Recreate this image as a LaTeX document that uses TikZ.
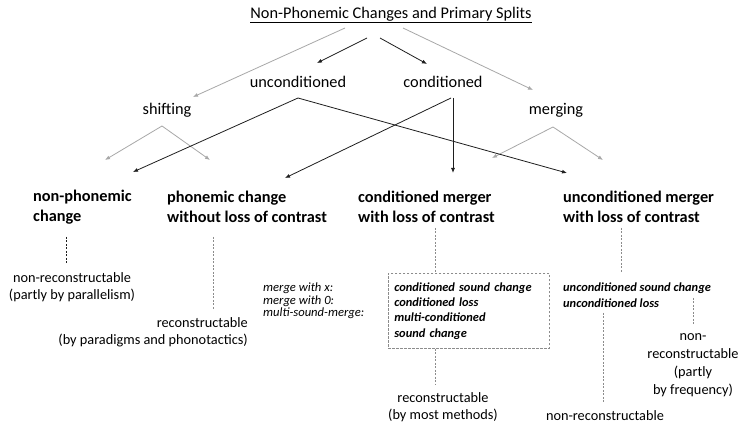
\documentclass[tikz,border=0pt]{standalone}
\usepackage{fontspec}
\setmainfont{Carlito}
\usetikzlibrary{arrows.meta}
\definecolor{lgray}{HTML}{A8A8A8}
\definecolor{dgray}{HTML}{8C8C8C}
\definecolor{dark}{HTML}{1E1E1E}
\begin{document}
\begin{tikzpicture}[x=1pt,y=-1pt,
  lbl/.style={inner sep=0pt,font=\fontsize{16.3}{18}\selectfont},
  head/.style={inner sep=0pt,align=left,anchor=west,font=\fontsize{16.3}{20}\selectfont\bfseries},
  body/.style={inner sep=0pt,font=\fontsize{14.3}{17}\selectfont},
  itl/.style={inner sep=0pt,align=left,font=\fontsize{12.4}{15.4}\selectfont\bfseries\itshape},
  garrow/.style={draw=lgray,line width=0.8pt,-{Latex[length=5pt,width=4pt]}},
  barrow/.style={draw=dark,line width=0.8pt,-{Latex[length=5pt,width=4pt]}},
  dline/.style={draw=dgray,line width=0.7pt,dash pattern=on 2pt off 1.5pt},
]
\useasboundingbox[fill=white] (0,0) rectangle (739,427);

% title and level labels
\node[lbl] (title) at (391,15) {\underline{Non-Phonemic Changes and Primary Splits}};
\node[lbl] (uncond) at (298,82) {unconditioned};
\node[lbl] (cond) at (443,82) {conditioned};
\node[lbl] (shift) at (167,110) {shifting};
\node[lbl] (merge) at (556,110) {merging};

% headers
\node[head] (h1) at (33,207) {non-phonemic\\change};
\node[head] (h2) at (167,207) {phonemic change\\without loss of contrast};
\node[head] (h3) at (358,207) {conditioned merger\\with loss of contrast};
\node[head] (h4) at (563,207) {unconditioned merger\\with loss of contrast};

% bodies
\node[body,align=center] (nr1) at (72,287) {non-reconstructable\\(partly by parallelism)};
\node[body,align=right,anchor=east] (rc1) at (248,332) {reconstructable\\(by paradigms and phonotactics)};
\node[inner sep=0pt,align=left,anchor=west,font=\fontsize{12.6}{12.5}\selectfont\itshape] (mw) at (263,301) {merge with x:\\merge with 0:\\multi-sound-merge:};
\node[itl,draw=dgray,line width=0.7pt,dash pattern=on 2.5pt off 1.5pt,anchor=north west,
  minimum width=157pt,minimum height=75pt,text width=149pt,inner xsep=6pt] (box) at (388,273)
  {conditioned sound change\\conditioned loss\\multi-conditioned\\sound change};
\node[body,align=center] (rc2) at (443,407) {reconstructable\\(by most methods)};
\node[itl,anchor=west] (uc) at (563,295) {unconditioned sound change\\unconditioned loss};
\node[body] (nr2) at (605,416) {non-reconstructable};
\node[body,align=center,font=\fontsize{14.3}{18}\selectfont] (nr3) at (693,365) {non-\\reconstructable\\(partly\\by frequency)};

% arrow coordinates
\coordinate (t1) at (345,28); \coordinate (s1) at (193,97);
\coordinate (t2) at (403,28); \coordinate (m1) at (533,90);
\coordinate (t3) at (367,38); \coordinate (u1) at (317,63);
\coordinate (t4) at (380,38); \coordinate (c1) at (427,64);
\coordinate (ua) at (298,98); \coordinate (ca) at (451,98);
\coordinate (h1t) at (133,172); \coordinate (h2t) at (285,178);
\coordinate (h3t) at (453,173); \coordinate (h4t) at (567,173);
\coordinate (sa) at (162,126); \coordinate (sl) at (105,160); \coordinate (sr) at (210,160);
\coordinate (ma) at (553,127); \coordinate (ml) at (492,158); \coordinate (mr) at (603,160);

\draw[garrow] (t1) -- (s1);
\draw[garrow] (t2) -- (m1);
\draw[barrow] (t3) -- (u1);
\draw[barrow] (t4) -- (c1);
\draw[garrow] (sa) -- (sl);
\draw[garrow] (sa) -- (sr);
\draw[garrow] (ma) -- (ml);
\draw[garrow] (ma) -- (mr);
\draw[barrow] (ua) -- (h1t);
\draw[barrow] (ua) -- (h4t);
\draw[barrow] (ca) -- (h2t);
\draw[barrow] (ca -| h3t) -- (h3t);

% dashed connectors
\coordinate (d1) at (66,237);
\coordinate (d2) at (213,237);
\coordinate (d3) at (435,228);
\coordinate (d5) at (621,228);
\coordinate (d6) at (603,313);
\coordinate (d7) at (693,298);
\draw[dline,draw=dark] (d1) -- (66,263);
\draw[dline] (d2) -- (213,310);
\draw[dline] (d3) -- (d3 |- box.north);
\draw[dline] (d3 |- box.south) -- (435,385);
\draw[dline] (d5) -- (621,273);
\draw[dline] (d6) -- (603,403);
\draw[dline] (d7) -- (693,325);
\end{tikzpicture}
\end{document}
